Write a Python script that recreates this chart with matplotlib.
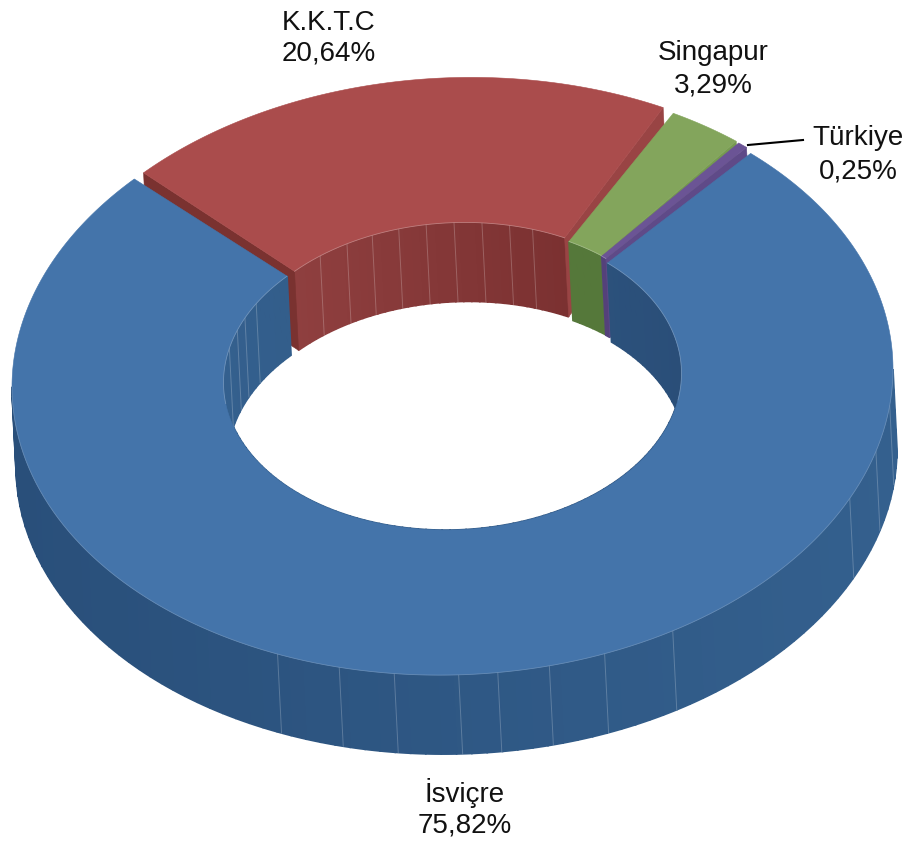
import numpy as np
import matplotlib
matplotlib.use('Agg')
import matplotlib.pyplot as plt
from matplotlib.colors import to_rgb

# Data
labels = ['İsviçre', 'K.K.T.C', 'Singapur', 'Türkiye']
values = [75.82, 20.64, 3.29, 0.25]
value_labels = ['75,82%', '20,64%', '3,29%', '0,25%']

# Ring geometry (pixels)
start_angle = 41.5
a_out, b_out = 440.5, 297
a_in, b_in = 229, 152
depth = 79
shift = 4
tilt = -0.02
centers = [(452.5, 378), (458, 374.5), (456, 376), (453.5, 375)]
# small trims of each slice's ends (degrees), they open the gaps between slices
trim_start = [1.1, 0, 0.8, -0.25]
trim_end = [-0.7, -1.0, -1.1, 0.2]

# Colours per slice
top_col = ['#4474AA', '#AA4C4C', '#83A55C', '#6B5495']
inner_col = [('#34608E', '#2A4E78'), ('#8F3F3F', '#7B3131'), ('#55783A', '#55783A'), ('#54417A', '#54417A')]
side_a = [None, '#7A3230', None, None]
side_b = [None, '#994444', '#769A50', '#5F4A88']

# Seams seen on the walls (degrees)
outer_seams = [97, 106, 115.6, 150, 159.8, 167.3, 174.1, 179.2, 187.6, 194.9, 203.4]
inner_seams_blue = [283, 290, 295, 301]
inner_seams_red = [323, 331, 338, 345, 352, 359, 366, 373, 379]


def point(cx, cy, a, b, theta, low=False):
    t = np.radians(theta)
    x = cx + a * np.sin(t)
    y = cy - b * np.cos(t) + tilt * (a * np.sin(t))
    if low:
        x = x + shift
        y = y + depth
    return x, y


def arc(cx, cy, a, b, t0, t1, low=False):
    th = np.linspace(t0, t1, max(int(abs(t1 - t0) * 2), 2))
    return point(cx, cy, a, b, th, low)


def mix(c0, c1, t):
    c0, c1 = np.array(to_rgb(c0)), np.array(to_rgb(c1))
    return tuple(c0 + (c1 - c0) * t)


def wall(ax, cx, cy, a, b, t0, t1, col0, col1, step=2, z=1):
    # wall as small strips, colour goes from col0 (left) to col1 (right)
    angles = np.arange(t0, t1 + step, step)
    angles[-1] = t1
    x_all = arc(cx, cy, a, b, t0, t1)[0]
    for p, q in zip(angles[:-1], angles[1:]):
        xt, yt = arc(cx, cy, a, b, p, q)
        xb, yb = arc(cx, cy, a, b, p, q, low=True)
        t = (xt.mean() - x_all.min()) / (x_all.max() - x_all.min())
        c = mix(col0, col1, t)
        ax.fill(np.r_[xt, xb[::-1]], np.r_[yt, yb[::-1]], color=c, lw=1.2, zorder=z)


def seam(ax, cx, cy, a, b, theta, col='#ffffff', alpha=0.22, z=2):
    x0, y0 = point(cx, cy, a, b, theta)
    x1, y1 = point(cx, cy, a, b, theta, low=True)
    ax.plot([x0, x1], [y0, y1], color=col, lw=0.7, alpha=alpha, zorder=z)


fig = plt.figure(figsize=(9.08, 8.42), dpi=100)
ax = fig.add_axes([0, 0, 1, 1])
ax.set_xlim(0, 908)
ax.set_ylim(842, 0)
ax.axis('off')

# Slice angles, clockwise from the top
ends = start_angle + np.cumsum(values) / sum(values) * 360
starts = np.r_[start_angle, ends[:-1]]

# Painter's order: back slices first, big front slice last
for n, i in enumerate([1, 2, 3, 0]):
    cx, cy = centers[i]
    t0, t1 = starts[i] + trim_start[i], ends[i] + trim_end[i]
    z = 10 * (n + 1)

    # inner wall
    wall(ax, cx, cy, a_in, b_in, t0, t1, inner_col[i][0], inner_col[i][1], z=z)
    if i == 0:
        for s in inner_seams_blue:
            seam(ax, cx, cy, a_in, b_in, s, z=z + 1)
        # outer wall of the front slice
        wall(ax, cx, cy, a_out, b_out, 90, 270, '#294F7A', '#34608E', z=z)
        for s in outer_seams:
            seam(ax, cx, cy, a_out, b_out, s, z=z + 1)
    if i == 1:
        for s in inner_seams_red:
            seam(ax, cx, cy, a_in, b_in, s, z=z + 1)

    # cut faces at the slice ends
    for th, col in [(t0, side_a[i]), (t1, side_b[i])]:
        if col is None:
            continue
        p1 = point(cx, cy, a_out, b_out, th)
        p2 = point(cx, cy, a_in, b_in, th)
        p3 = point(cx, cy, a_in, b_in, th, low=True)
        p4 = point(cx, cy, a_out, b_out, th, low=True)
        ax.fill([p1[0], p2[0], p3[0], p4[0]], [p1[1], p2[1], p3[1], p4[1]],
                color=col, lw=0.4, zorder=z + 2)

    # top face
    xo, yo = arc(cx, cy, a_out, b_out, t0, t1)
    xi, yi = arc(cx, cy, a_in, b_in, t0, t1)
    ax.fill(np.r_[xo, xi[::-1]], np.r_[yo, yi[::-1]], color=top_col[i], lw=0.4, zorder=z + 3)

    # pale edge highlights
    if i == 0:
        for p, q in [(t0, 100), (262, t1)]:
            xh, yh = arc(cx, cy, a_in, b_in, p, q)
            ax.plot(xh, yh, color='#ffffff', lw=0.6, alpha=0.25, zorder=z + 4)
        xh, yh = arc(cx, cy, a_out, b_out, 90, 270)
        ax.plot(xh, yh, color='#ffffff', lw=0.6, alpha=0.2, zorder=z + 4)
    else:
        ax.plot(xi, yi, color='#ffffff', lw=0.6, alpha=0.3, zorder=z + 4)

# Labels
name_pos = [(465, 793), (329, 23), (713, 53), (858, 138)]
value_pos = [(465, 826), (329, 54), (713, 86), (858, 171)]
for name, val, p, q in zip(labels, value_labels, name_pos, value_pos):
    ax.text(p[0], p[1], name, ha='center', va='center', fontsize=20, family='Liberation Sans', color='#111111', zorder=100)
    ax.text(q[0], q[1], val, ha='center', va='center', fontsize=20, family='Liberation Sans', color='#111111', zorder=100)

# Leader line for the small slice
ax.plot([748, 803], [145, 140], color='black', lw=1.5, zorder=100)

fig.savefig('out.png', dpi=100)
